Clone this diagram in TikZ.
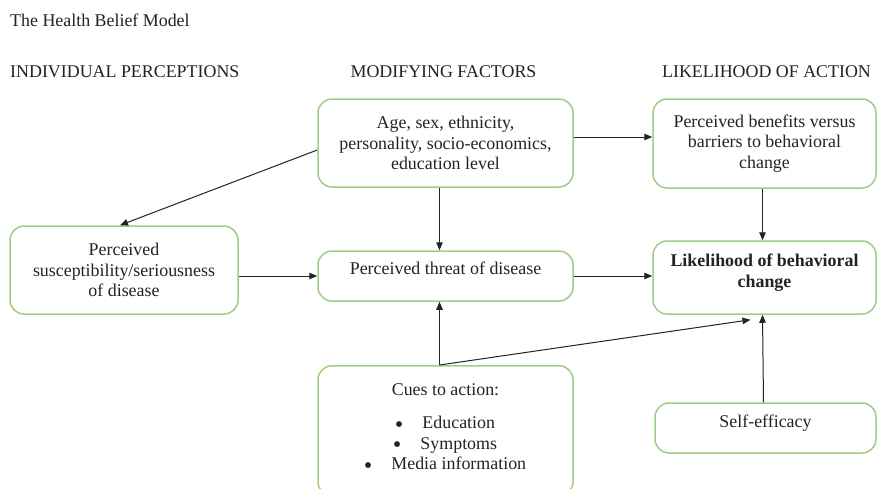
\documentclass[tikz,border=0pt]{standalone}
\usepackage{fontspec}
\setmainfont{Liberation Serif}
\newfontfamily\symfont{DejaVu Sans}
\usetikzlibrary{positioning,arrows.meta}
\definecolor{boxgreen}{RGB}{160,205,130}
\definecolor{ink}{RGB}{35,35,35}
\newcommand{\cuebullet}{\raisebox{2.5pt}{\symfont\fontsize{7.5}{8}\selectfont ●}\hspace{20pt}}

\begin{document}
\begin{tikzpicture}[x=1pt, y=1pt,
  font=\fontsize{17.9}{20.5}\selectfont, text=ink,
  head/.style={inner sep=0pt},
  box/.style={draw=boxgreen, line width=1.5pt, rounded corners=14pt, align=center, inner sep=0pt, fill=white},
  link/.style={->, draw=ink, line width=1pt},
  >={Triangle[length=8pt,width=6.5pt]}]

\path[use as bounding box, fill=white] (0,0) rectangle (877,-488);
\clip (0,0) rectangle (877,-488);

\node[head, anchor=base west] (title) at (10,-26) {The Health Belief Model};
\node[head, anchor=base west] (h1) at (10,-77) {INDIVIDUAL PERCEPTIONS};
\node[head, anchor=base] (h2) at (443.5,-77) {MODIFYING FACTORS};
\node[head, anchor=base] (h3) at (766.5,-77) {LIKELIHOOD OF ACTION};

\node[box, minimum width=255pt, minimum height=88pt] (mod) at (445.5,-143) {Age, sex, ethnicity,\\personality, socio-economics,\\education level};
\node[box, minimum width=223pt, minimum height=89pt] (ben) at (764.5,-143.5) {Perceived benefits versus\\barriers to behavioral\\change};
\node[box, minimum width=228pt, minimum height=88pt] (susc) at (124,-270) {Perceived\\susceptibility/seriousness\\of disease};
\node[box, minimum width=255pt, minimum height=50pt, text depth=16pt] (threat) at (445.5,-276) {Perceived threat of disease};
\node[box, minimum width=223pt, minimum height=73pt, text depth=14pt] (likely) at (764.5,-277.5) {\textbf{Likelihood of behavioral}\\\textbf{change}};
\node[box, minimum width=255pt, minimum height=130pt, text depth=8pt, anchor=north] (cues) at (445.5,-365) {Cues to action:\\[13pt]\cuebullet Education\\\cuebullet Symptoms\\\cuebullet Media information};
\node[box, minimum width=221pt, minimum height=50pt, text depth=14pt] (self) at (765.5,-428) {Self-efficacy};

\coordinate (cuetop) at ([xshift=-6pt]cues.north);

\draw[link] ([yshift=-7pt]mod.west) -- ([xshift=-4pt]susc.north);
\draw[link] ([xshift=-6pt]mod.south) -- ([xshift=-6pt]threat.north);
\draw[link] ([yshift=6pt]mod.east) -- ([yshift=6pt]mod.east -| ben.west);
\draw[link] ([xshift=-2pt]ben.south) -- ([xshift=-2pt]likely.north);
\draw[link] (threat.west -| susc.east) -- (threat.west);
\draw[link] (threat.east) -- (threat.east -| likely.west);
\draw[link] (cuetop) -- ([xshift=-6pt]threat.south);
\draw[link] (cuetop) -- ([xshift=-14pt,yshift=-5pt]likely.south);
\draw[link] ([xshift=-2pt]self.north) -- ([xshift=-2pt]likely.south);

\end{tikzpicture}
\end{document}
